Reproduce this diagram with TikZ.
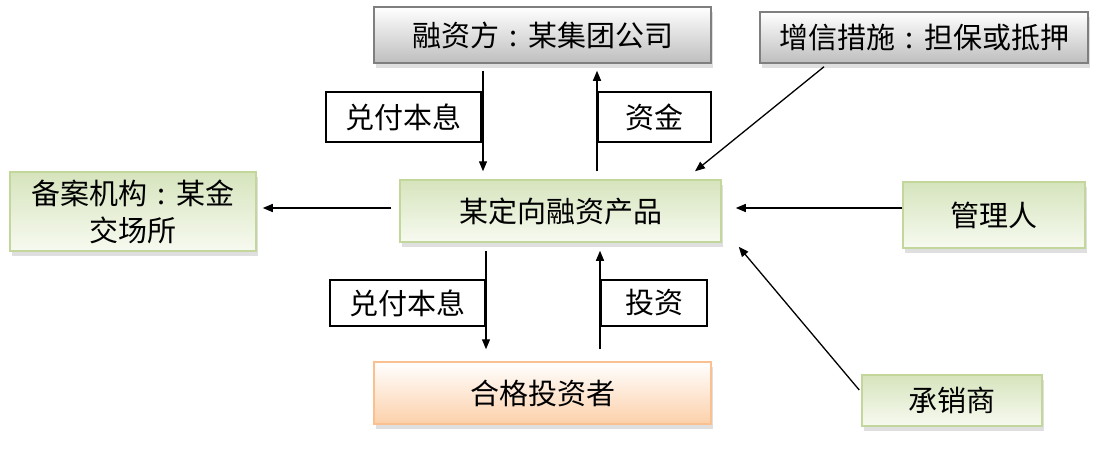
\documentclass[tikz,border=0pt]{standalone}
\usepackage{fontspec}
\setmainfont{Noto Sans CJK SC}
\usetikzlibrary{arrows.meta,shadows}
\definecolor{grayborder}{HTML}{7F7F7F}
\definecolor{greenborder}{HTML}{C3D69B}
\definecolor{orangeborder}{HTML}{FAC090}
\definecolor{greentop}{HTML}{D6E4BD}
\definecolor{greenbot}{HTML}{F7FAF0}
\definecolor{graybot}{HTML}{BEBEBE}
\definecolor{orangebot}{HTML}{FCD0AA}
\newcommand{\cc}{\makebox[1em][c]{:}}
\tikzset{
  base/.style={font=\fontsize{29}{37}\selectfont, inner sep=0pt, align=center,
    drop shadow={opacity=0.25, shadow xshift=2pt, shadow yshift=-5pt}},
  graybox/.style={base, draw=grayborder, line width=1.5pt, top color=white, bottom color=graybot},
  greenbox/.style={base, draw=greenborder, line width=1.5pt, top color=greentop, bottom color=greenbot},
  orangebox/.style={base, draw=orangeborder, line width=1.5pt, top color=white, bottom color=orangebot},
  lab/.style={draw=black, line width=1.2pt, fill=white, inner sep=0pt, font=\fontsize{29}{35}\selectfont},
  arr/.style={-{Triangle[length=10pt,width=8pt]}, line width=1.3pt, black}
}
\begin{document}
\begin{tikzpicture}[x=1pt,y=1pt]
\useasboundingbox (0,0) rectangle (1118,-450);
\node[graybox, minimum width=337pt, minimum height=56pt] (fin) at (542.5,-35) {融资方\cc 某集团公司};
\node[graybox, minimum width=328pt, minimum height=51pt] (zx) at (924,-37.5) {增信措施\cc 担保或抵押};
\node[greenbox, minimum width=246pt, minimum height=79pt] (ba) at (133,-211.5) {备案机构\cc 某金\\交场所};
\node[greenbox, minimum width=321pt, minimum height=62pt] (prod) at (560.5,-211) {某定向融资产品};
\node[greenbox, minimum width=182pt, minimum height=66pt] (gl) at (994,-215) {管理人};
\node[orangebox, minimum width=337pt, minimum height=62pt] (inv) at (542.5,-393) {合格投资者};
\node[greenbox, minimum width=180pt, minimum height=51pt] (cx) at (952,-400.5) {承销商};
\node[lab, minimum width=155pt, minimum height=50pt] (l1) at (403.5,-117) {兑付本息};
\node[lab, minimum width=113pt, minimum height=50pt] (l2) at (654.5,-117) {资金};
\node[lab, minimum width=155pt, minimum height=46pt] (l3) at (407.5,-303) {兑付本息};
\node[lab, minimum width=106pt, minimum height=46pt] (l4) at (654,-303) {投资};
\draw[arr] ([xshift=-59.5pt,yshift=-7pt]fin.south) -- ([xshift=-77.5pt,yshift=8pt]prod.north);
\draw[arr] ([xshift=36.5pt,yshift=8pt]prod.north) -- ([xshift=54.5pt,yshift=-7pt]fin.south);
\draw[arr] ([xshift=-74.5pt,yshift=-8pt]prod.south) -- ([xshift=-56.5pt,yshift=12pt]inv.north);
\draw[arr] ([xshift=57.5pt,yshift=12pt]inv.north) -- ([xshift=39.5pt,yshift=-8pt]prod.south);
\draw[arr] ([xshift=-8pt,yshift=3pt]prod.west) -- ([xshift=6pt,yshift=3.5pt]ba.east);
\draw[arr] ([yshift=7pt]gl.west) -- ([xshift=14pt,yshift=3pt]prod.east);
\draw[arr] ([xshift=-100pt,yshift=-3pt]zx.south) -- ([xshift=134.5pt,yshift=8pt]prod.north);
\draw[arr] ([xshift=-2pt,yshift=10.5pt]cx.west) -- ([xshift=17pt,yshift=-4pt]prod.south east);
\end{tikzpicture}
\end{document}
